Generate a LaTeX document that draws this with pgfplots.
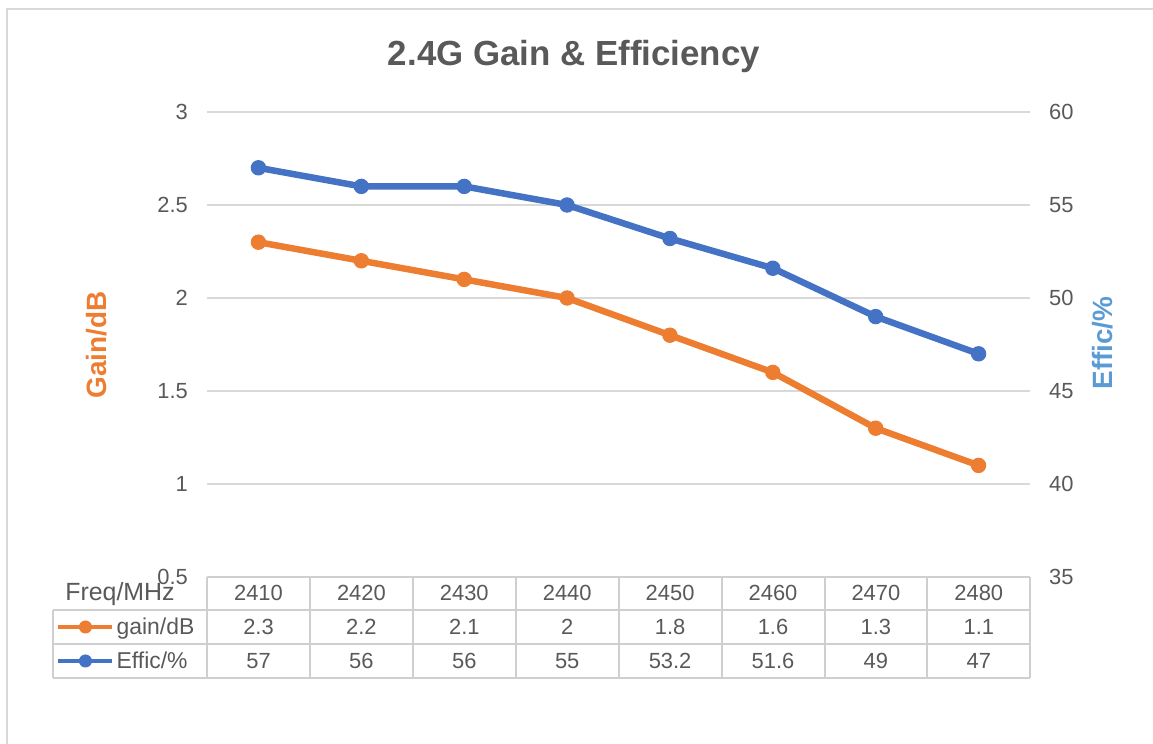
\documentclass[border=0pt]{standalone}
\usepackage{pgfplots}
\pgfplotsset{compat=1.18}
\usepackage{pgfplotstable}
\usepackage{fontspec}
\setmainfont{Liberation Sans}
\definecolor{cOrange}{HTML}{ED7D31}
\definecolor{cBlue}{HTML}{4472C4}
\definecolor{cLBlue}{HTML}{5B9BD5}
\definecolor{cText}{HTML}{595959}
\definecolor{cGrid}{HTML}{D9D9D9}
\definecolor{cTable}{HTML}{CFCFCF}

\pgfplotstableread{
idx freq gain effic
0 2410 2.3 57
1 2420 2.2 56
2 2430 2.1 56
3 2440 2.0 55
4 2450 1.8 53.2
5 2460 1.6 51.6
6 2470 1.3 49
7 2480 1.1 47
}\datatable

\pgfplotsset{
  common/.style={
    at={(207bp,167bp)}, anchor=south west, scale only axis,
    width=823bp, height=465bp,
    xmin=-0.5, xmax=7.5, xtick=\empty,
    axis line style={draw=none}, major tick length=0pt,
    tick label style={font=\fontsize{22}{26}\selectfont, text=cText, inner sep=0pt},
    /pgf/number format/assume math mode=true,
    clip=false,
    legend style={draw=none, fill=none, font=\fontsize{23}{27}\selectfont, text=cText,
      inner sep=0pt, anchor=west, nodes={inner xsep=2bp, inner ysep=0pt}},
    legend image code/.code={\draw[mark repeat=2, mark phase=2, line width=4.5bp, mark size=6bp, ##1] plot coordinates {(0bp,0bp) (27bp,0bp) (54bp,0bp)};},
  }
}

\begin{document}
\begin{tikzpicture}
\path[use as bounding box] (0,0) rectangle (1153bp,744bp);
\draw[cGrid, line width=2bp] (7bp,0) -- (7bp,735bp) -- (1153bp,735bp);

\begin{axis}[common, ymin=0.5, ymax=3, ytick={0.5,1,1.5,2,2.5,3},
  ymajorgrids, grid style={cGrid, line width=1.5bp},
  yticklabel style={xshift=-19bp},
  legend style={at={(-0.1835,-0.1075)}}]
\addplot[cOrange, line width=6.5bp, mark=*, mark size=7.2bp, mark options={line width=1bp, solid}] table[x=idx, y=gain]{\datatable};
\addlegendentry{gain/dB}
\end{axis}

\begin{axis}[common, ymin=35, ymax=60, ytick={35,40,45,50,55,60},
  axis y line*=right, axis x line=none,
  yticklabel style={xshift=19bp},
  legend style={at={(-0.1835,-0.1806)}}]
\addplot[cBlue, line width=6.5bp, mark=*, mark size=7.2bp, mark options={line width=1bp, solid}] table[x=idx, y=effic]{\datatable};
\addlegendentry{Effic/\%}
\end{axis}

% title and axis titles
\node[font=\fontsize{35}{40}\selectfont\bfseries, text=cText] at (574bp,688bp) {2.4G Gain \& Efficiency};
\node[rotate=90, font=\fontsize{28}{32}\selectfont\bfseries, text=cOrange] at (97bp,399bp) {Gain/dB};
\node[rotate=90, font=\fontsize{28}{32}\selectfont\bfseries, text=cLBlue] at (1103bp,401bp) {Effic/\%};

% data table
\begin{scope}[cTable, line width=2bp]
\draw (207bp,167bp) -- (1030bp,167bp);
\draw (53bp,134bp) -- (1030bp,134bp);
\draw (53bp,100bp) -- (1030bp,100bp);
\draw (53bp,66bp) -- (1030bp,66bp);
\draw (53bp,134bp) -- (53bp,66bp);
\foreach \x in {207,310,413,516,619,722,825,927,1030} {
  \draw (\x bp,167bp) -- (\x bp,66bp);
}
\end{scope}
\node[font=\fontsize{25}{30}\selectfont, text=cText] at (120bp,150bp) {Freq/MHz};
\begin{scope}[every node/.style={font=\fontsize{22}{26}\selectfont, text=cText}]
\foreach \v [count=\i from 0] in {2410,2420,2430,2440,2450,2460,2470,2480} {
  \node at ({258.5bp+102.9bp*\i},151bp) {\v};
}
\foreach \v [count=\i from 0] in {2.3,2.2,2.1,2,1.8,1.6,1.3,1.1} {
  \node at ({258.5bp+102.9bp*\i},117bp) {\v};
}
\foreach \v [count=\i from 0] in {57,56,56,55,53.2,51.6,49,47} {
  \node at ({258.5bp+102.9bp*\i},83bp) {\v};
}
\end{scope}
\end{tikzpicture}
\end{document}
